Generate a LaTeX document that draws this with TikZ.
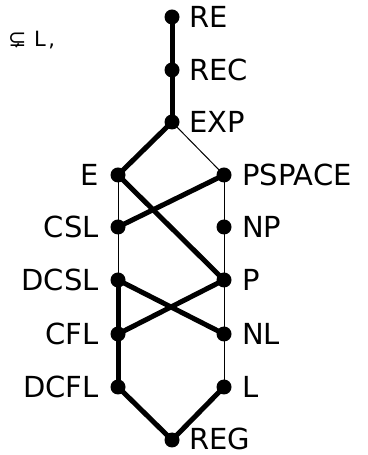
\documentclass[tikz,border=0pt]{standalone}
\usepackage{fontspec}
\setmainfont{DejaVu Sans}
\usetikzlibrary{backgrounds}
\begin{document}
\begin{tikzpicture}[x=1bp,y=1bp,
  dot/.style={circle,fill=black,inner sep=0pt,minimum size=15bp},
  lblr/.style={anchor=west,inner sep=0pt,font=\fontsize{29bp}{33bp}\selectfont},
  lbll/.style={anchor=east,inner sep=0pt,font=\fontsize{29bp}{33bp}\selectfont},
  thickedge/.style={line width=5bp},
  thinedge/.style={line width=1bp}]
\useasboundingbox (0,0) rectangle (367,455);
% dots
\node[dot] (RE) at (172,438) {};
\node[dot] (REC) at (172,385) {};
\node[dot] (EXP) at (172,333) {};
\node[dot] (E) at (118,280) {};
\node[dot] (PSPACE) at (224,280) {};
\node[dot] (CSL) at (118,228) {};
\node[dot] (NP) at (224,228) {};
\node[dot] (DCSL) at (118,175) {};
\node[dot] (P) at (224,175) {};
\node[dot] (CFL) at (118,121) {};
\node[dot] (NL) at (224,121) {};
\node[dot] (DCFL) at (118,68) {};
\node[dot] (L) at (224,68) {};
\node[dot] (REG) at (172,15) {};
% labels
\node[lblr] (tRE) at (189,438) {RE};
\node[lblr] (tREC) at (189,385) {REC};
\node[lblr] (tEXP) at (189,333) {EXP};
\node[lbll] (tE) at (99,280) {E};
\node[lblr] (tPSPACE) at (242,280) {PSPACE};
\node[lbll] (tCSL) at (99,228) {CSL};
\node[lblr] (tNP) at (242,228) {NP};
\node[lbll] (tDCSL) at (99,175) {DCSL};
\node[lblr] (tP) at (242,175) {P};
\node[lbll] (tCFL) at (99,121) {CFL};
\node[lblr] (tNL) at (242,121) {NL};
\node[lbll] (tDCFL) at (99,68) {DCFL};
\node[lblr] (tL) at (242,68) {L};
\node[lblr] (tREG) at (189,16) {REG};
\node[anchor=base west,inner sep=0pt,font=\fontsize{21bp}{24bp}\selectfont] (frag) at (8,408)
  {{\fontsize{22bp}{24bp}\selectfont ⊊}\hspace{7.5bp}L\hspace{2.5bp},};
% edges
\begin{scope}[on background layer]
\draw[thickedge] (RE.center) -- (REC.center);
\draw[thickedge] (REC.center) -- (EXP.center);
\draw[thickedge] (EXP.center) -- (E.center);
\draw[thinedge] (EXP.center) -- (PSPACE.center);
\draw[thinedge] (E.center) -- (CSL.center);
\draw[thinedge] (CSL.center) -- (DCSL.center);
\draw[thickedge] (DCSL.center) -- (CFL.center);
\draw[thickedge] (CFL.center) -- (DCFL.center);
\draw[thickedge] (DCFL.center) -- (REG.center);
\draw[thinedge] (PSPACE.center) -- (NP.center);
\draw[thinedge] (NP.center) -- (P.center);
\draw[thinedge] (P.center) -- (NL.center);
\draw[thinedge] (NL.center) -- (L.center);
\draw[thickedge] (L.center) -- (REG.center);
\draw[thickedge] (E.center) -- (P.center);
\draw[thickedge] (PSPACE.center) -- (CSL.center);
\draw[thickedge] (DCSL.center) -- (NL.center);
\draw[thickedge] (P.center) -- (CFL.center);
\end{scope}
\end{tikzpicture}
\end{document}
